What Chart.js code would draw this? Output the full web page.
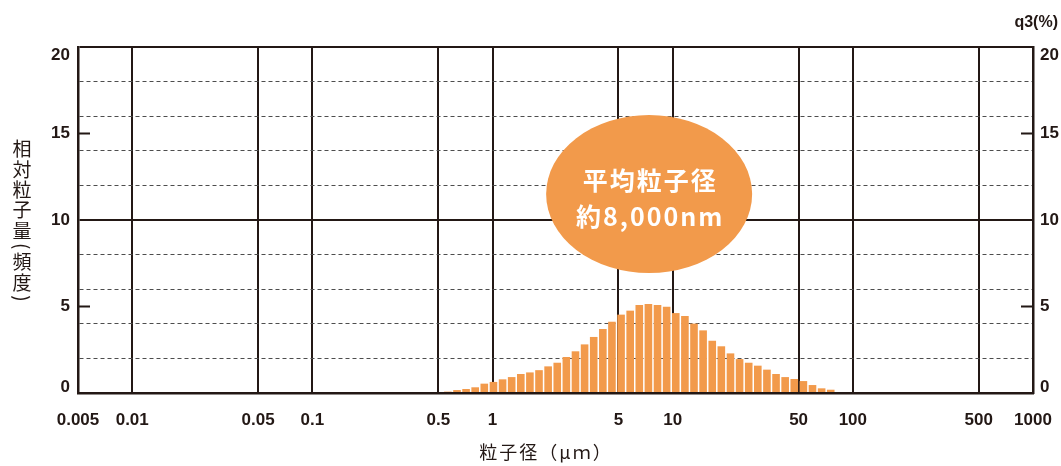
<!DOCTYPE html>
<html lang="ja">
<head>
<meta charset="utf-8">
<title>粒子径分布</title>
<script src="https://cdn.jsdelivr.net/npm/chart.js@4.4.1/dist/chart.umd.min.js"></script>
<style>
	html, body { margin: 0; padding: 0; background: #fff; }
	#wrap { width: 1061px; height: 466px; position: relative; }
</style>
</head>
<body>
<div id="wrap"><canvas id="psd"></canvas></div>
<script>
// particle size channels (μm)
const sizes = [
	0.565, 0.635, 0.713, 0.801, 0.900, 1.012, 1.137, 1.277, 1.435, 1.612,
	1.811, 2.035, 2.287, 2.569, 2.887, 3.243, 3.644, 4.095, 4.600, 5.169,
	5.808, 6.525, 7.332, 8.238, 9.256, 10.40, 11.69, 13.13, 14.75, 16.58,
	18.62, 20.93, 23.51, 26.42, 29.68, 33.35, 37.47, 42.10, 47.30, 53.15,
	59.70, 67.09, 75.38,
];
// relative amount per channel (%)
const freq = [
	0.08, 0.17, 0.23, 0.33, 0.54, 0.64, 0.79, 0.92, 1.10, 1.19,
	1.32, 1.54, 1.75, 2.08, 2.41, 2.81, 3.24, 3.70, 4.12, 4.53,
	4.76, 5.09, 5.14, 5.09, 4.99, 4.62, 4.45, 4.01, 3.62, 3.02,
	2.70, 2.29, 1.96, 1.75, 1.58, 1.35, 1.10, 0.92, 0.81, 0.69,
	0.46, 0.27, 0.19,
];

const xTicks = [0.005, 0.01, 0.05, 0.1, 0.5, 1, 5, 10, 50, 100, 500, 1000];
const yGrid = [0, 2, 4, 5, 6, 8, 10, 12, 14, 15, 16, 18, 20];
const yLabels = [0, 5, 10, 15, 20];
const yMarks = [5, 15];

const yTitle = ['相', '対', '粒', '子', '量', '(', '頻', '度', ')'];
const xTitle = '粒子径（μｍ）';
const q3Title = 'q3(%)';
const noteLines = ['平均粒子径', '約8,000nm'];

const INK = '#231815';
const ORANGE = '#f29a4b';
const NUM_FONT = '"Liberation Sans", Arial, sans-serif';
const JP_FONT = '"Noto Sans CJK JP", sans-serif';

const isMajor = (c) => c.tick && c.tick.value % 10 === 0;

// keep the end labels of the y axes inside the frame
const nudgeEnds = {
	id: 'nudgeEnds',
	beforeDraw(chart) {
		for (const id of ['y', 'y2']) {
			const items = chart.scales[id].getLabelItems(chart.chartArea);
			for (const it of items) {
				if (it._nudged) continue;
				if (it.label === '20') it.options.translation[1] += 8;
				if (it.label === '0') it.options.translation[1] -= 6;
				it._nudged = true;
			}
		}
	},
};

// vertical y title, axis captions, short marks at 5/15 and the mean-size bubble
const extras = {
	id: 'extras',
	afterDraw(chart) {
		const { ctx, chartArea: a, scales } = chart;
		ctx.save();

		ctx.strokeStyle = INK;
		ctx.lineWidth = 2;
		for (const v of yMarks) {
			const y = scales.y.getPixelForValue(v);
			ctx.beginPath();
			ctx.moveTo(a.left, y);
			ctx.lineTo(a.left + 12, y);
			ctx.moveTo(a.right - 12, y);
			ctx.lineTo(a.right, y);
			ctx.stroke();
		}

		ctx.fillStyle = INK;
		ctx.font = '19px ' + JP_FONT;
		ctx.textAlign = 'center';
		ctx.textBaseline = 'middle';
		let y = 139;
		for (const ch of yTitle) {
			const paren = ch === '(' || ch === ')';
			const h = paren ? 11.5 : 20.3;
			ctx.save();
			ctx.translate(22, y + h / 2);
			if (paren) ctx.rotate(Math.PI / 2);
			ctx.fillText(ch, 0, 0);
			ctx.restore();
			y += h;
		}

		ctx.font = '18px ' + JP_FONT;
		ctx.letterSpacing = '2px';
		ctx.fillText(xTitle, 546, 452);
		ctx.letterSpacing = '0px';

		ctx.font = 'bold 16px ' + NUM_FONT;
		ctx.textAlign = 'right';
		ctx.fillText(q3Title, 1058, 23);

		const cx = scales.x.getPixelForValue(7.4);
		const cy = scales.y.getPixelForValue(11.5);
		ctx.fillStyle = ORANGE;
		ctx.beginPath();
		ctx.ellipse(cx, cy, 103, 79, 0, 0, Math.PI * 2);
		ctx.fill();

		ctx.fillStyle = '#fff';
		ctx.textAlign = 'center';
		ctx.font = 'bold 25px ' + JP_FONT;
		ctx.letterSpacing = '2px';
		ctx.fillText(noteLines[0], cx + 1, cy - 14);
		ctx.fillText(noteLines[1], cx + 1, cy + 22);
		ctx.restore();
	},
};

new Chart(document.getElementById('psd'), {
	type: 'bar',
	data: {
		datasets: [
			{
				data: sizes.map((s, i) => ({ x: s, y: freq[i] })),
				backgroundColor: ORANGE,
				barPercentage: 0.84,
				categoryPercentage: 1,
			},
		],
	},
	options: {
		responsive: true,
		maintainAspectRatio: false,
		animation: false,
		layout: { padding: { top: 47, left: 0, right: 0, bottom: 0 } },
		plugins: { legend: { display: false }, tooltip: { enabled: false } },
		scales: {
			x: {
				type: 'logarithmic',
				min: 0.005,
				max: 1000,
				offset: false,
				afterBuildTicks: (s) => { s.ticks = xTicks.map((v) => ({ value: v })); },
				afterFit: (s) => {
					s.height = 73;
					s.paddingLeft = 0;
					s.paddingRight = 0;
				},
				ticks: {
					autoSkip: false,
					maxRotation: 0,
					padding: 17,
					color: INK,
					font: { family: NUM_FONT, size: 17, weight: 'bold' },
					callback: (v) => (xTicks.includes(v) ? String(v) : ''),
				},
				grid: { color: INK, lineWidth: 2, drawTicks: false, offset: false },
				border: { color: INK, width: 2.5 },
			},
			y: {
				min: 0,
				max: 20,
				afterBuildTicks: (s) => { s.ticks = yGrid.map((v) => ({ value: v })); },
				afterFit: (s) => { s.width = 78; },
				ticks: {
					autoSkip: false,
					padding: 8,
					color: INK,
					font: { family: NUM_FONT, size: 17, weight: 'bold' },
					callback: (v) => (yLabels.includes(v) ? String(v) : ''),
				},
				grid: {
					drawTicks: false,
					color: (c) => (c.tick && yMarks.includes(c.tick.value) ? 'rgba(0,0,0,0)' : isMajor(c) ? INK : '#4d4d4d'),
					lineWidth: (c) => (isMajor(c) ? 2 : 1),
				},
				border: {
					color: INK,
					width: 2.5,
					dash: (c) => (c.tick && !isMajor(c) ? [4, 3] : []),
				},
			},
			y2: {
				position: 'right',
				min: 0,
				max: 20,
				afterBuildTicks: (s) => { s.ticks = yLabels.map((v) => ({ value: v })); },
				afterFit: (s) => { s.width = 28; },
				ticks: {
					autoSkip: false,
					padding: 7,
					color: INK,
					font: { family: NUM_FONT, size: 17, weight: 'bold' },
				},
				grid: { display: false, drawTicks: false },
				border: { color: INK, width: 2.5 },
			},
		},
	},
	plugins: [nudgeEnds, extras],
});
</script>
</body>
</html>
